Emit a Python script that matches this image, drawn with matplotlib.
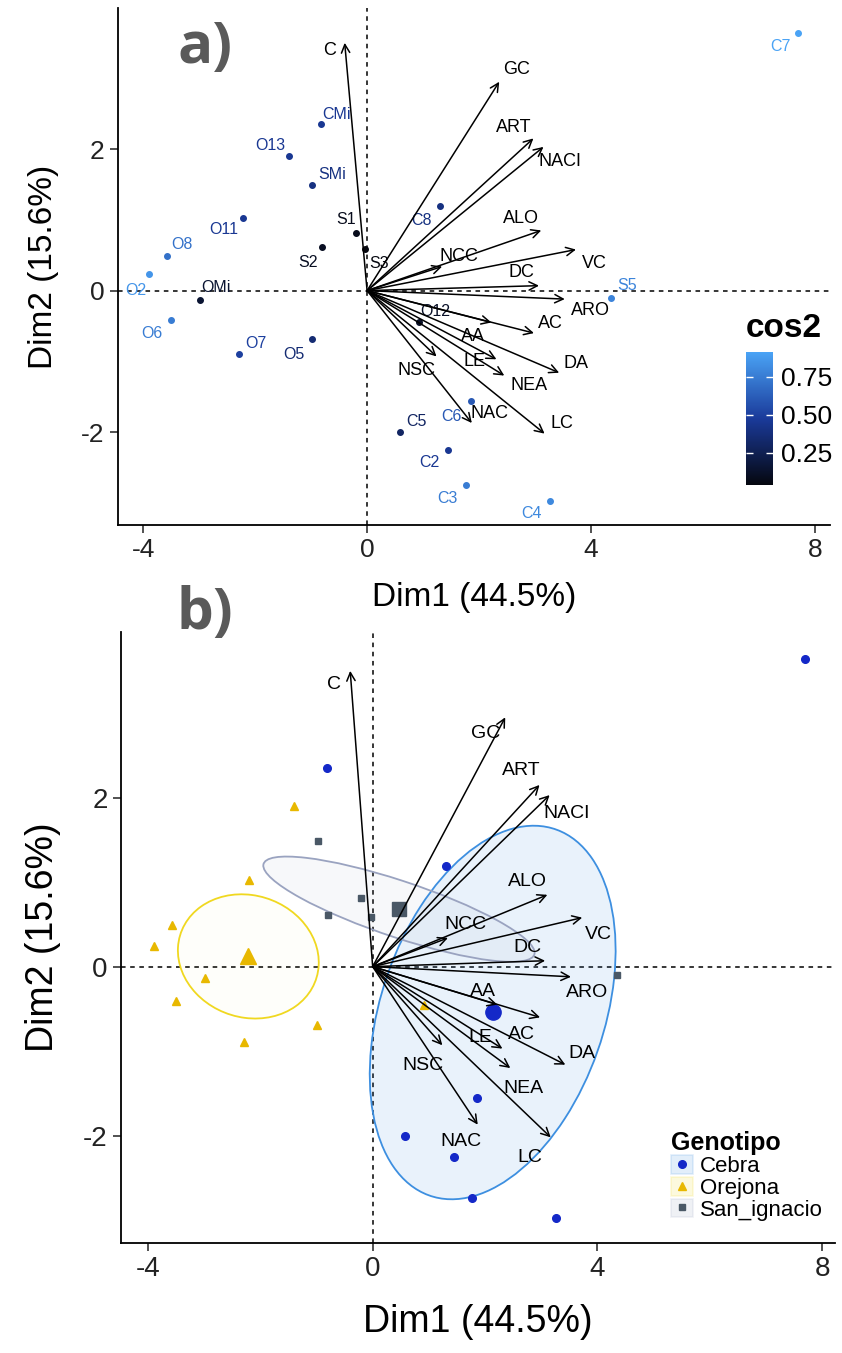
import numpy as np
import matplotlib
matplotlib.use('Agg')
import matplotlib.pyplot as plt
from matplotlib.patches import Ellipse, Patch
from matplotlib.lines import Line2D
from matplotlib.colors import LinearSegmentedColormap, Normalize
from matplotlib.cm import ScalarMappable

plt.rcParams['font.family'] = ['Liberation Sans', 'DejaVu Sans']
plt.rcParams['axes.unicode_minus'] = False

# individuals (coordinates on Dim1 / Dim2, quality cos2, genotype)
ind_names = ['C2', 'C3', 'C4', 'C5', 'C6', 'C7', 'C8', 'CMi',
             'O2', 'O5', 'O6', 'O7', 'O8', 'O11', 'O12', 'O13', 'OMi',
             'S1', 'S2', 'S3', 'S5', 'SMi']
ind_dim1 = [1.45, 1.77, 3.26, 0.58, 1.85, 7.70, 1.30, -0.82,
            -3.89, -0.99, -3.50, -2.29, -3.57, -2.21, 0.92, -1.40, -2.99,
            -0.20, -0.80, -0.03, 4.35, -0.98]
ind_dim2 = [-2.25, -2.74, -2.97, -2.00, -1.56, 3.64, 1.19, 2.35,
            0.24, -0.69, -0.41, -0.89, 0.49, 1.03, -0.45, 1.90, -0.13,
            0.81, 0.61, 0.59, -0.10, 1.49]
ind_cos2 = [0.45, 0.75, 0.80, 0.30, 0.60, 0.91, 0.40, 0.45,
            0.85, 0.35, 0.75, 0.50, 0.70, 0.45, 0.12, 0.45, 0.15,
            0.08, 0.10, 0.04, 0.78, 0.40]
ind_group = ['Cebra'] * 8 + ['Orejona'] * 9 + ['San_ignacio'] * 5

# variables (arrow tips)
var_names = ['C', 'GC', 'ART', 'NACI', 'ALO', 'VC', 'NCC', 'DC', 'ARO',
             'AC', 'AA', 'LE', 'NEA', 'DA', 'NSC', 'NAC', 'LC']
var_dim1 = [-0.40, 2.36, 2.97, 3.15, 3.11, 3.73, 1.34, 3.07, 3.53,
            2.98, 2.22, 2.31, 2.45, 3.43, 1.24, 1.87, 3.17]
var_dim2 = [3.50, 2.95, 2.15, 2.03, 0.85, 0.58, 0.34, 0.07, -0.12,
            -0.60, -0.45, -0.97, -1.20, -1.16, -0.93, -1.87, -2.02]

groups = ['Cebra', 'Orejona', 'San_ignacio']

# label offsets in pixels (dx right, dy down)
var_off_a = {'C': (-15, 8), 'GC': (17, -12), 'ART': (-20, -11), 'NACI': (17, 15),
             'ALO': (-20, -12), 'VC': (18, 14), 'NCC': (17, -10), 'DC': (-18, -13),
             'ARO': (26, 11), 'AC': (16, -10), 'AA': (-18, 14), 'LE': (-22, 2),
             'NEA': (25, 10), 'DA': (17, -9), 'NSC': (-20, 14), 'NAC': (18, -10),
             'LC': (17, -10)}
var_off_b = {'C': (-16, 14), 'GC': (-20, 16), 'ART': (-18, -14), 'NACI': (17, 18),
             'ALO': (-20, -13), 'VC': (16, 17), 'NCC': (17, -13), 'DC': (-18, -13),
             'ARO': (16, 16), 'AA': (-14, -13), 'AC': (-19, 17), 'LE': (-22, -11),
             'NEA': (13, 20), 'DA': (17, -11), 'NSC': (-19, 20), 'NAC': (-17, 17),
             'LC': (-21, 20)}
ind_off_a = {'CMi': (15, -10), 'O13': (-18, -11), 'SMi': (20, -11), 'O11': (-20, 12),
             'S1': (-10, -14), 'S2': (-14, 15), 'S3': (14, 15), 'O8': (15, -11),
             'C8': (-18, 14), 'O2': (-13, 17), 'OMi': (16, -12), 'O6': (-19, 14),
             'O7': (17, -10), 'O5': (-18, 15), 'O12': (17, -11), 'C5': (17, -11),
             'C6': (-19, 15), 'C2': (-19, 13), 'C3': (-19, 14), 'S5': (16, -12),
             'C4': (-18, 13), 'C7': (-18, 14)}

pt_color = {'Cebra': '#1428c8', 'Orejona': '#e8b800', 'San_ignacio': '#4a5866'}
el_color = {'Cebra': '#3d8fe0', 'Orejona': '#f0d820', 'San_ignacio': '#9aa3c0'}
el_alpha = {'Cebra': 0.11, 'Orejona': 0.02, 'San_ignacio': 0.07}
marker = {'Cebra': 'o', 'Orejona': '^', 'San_ignacio': 's'}
msize = {'Cebra': 5.5, 'Orejona': 6, 'San_ignacio': 5}

cmap = LinearSegmentedColormap.from_list('cos2', ['#05070f', '#1a3a9a', '#4aa3f5'])
norm = Normalize(min(ind_cos2), max(ind_cos2))

fig = plt.figure(figsize=(8.42, 13.53), dpi=100)
ax_a = fig.add_axes([0.140, 0.612, 0.846, 0.382])
ax_b = fig.add_axes([0.1437, 0.0813, 0.848, 0.4516])


def style_axes(ax, xlim, ylim, lab_size, tick_size, xpad, ypad):
    ax.set_xlim(*xlim)
    ax.set_ylim(*ylim)
    for s in ['top', 'right']:
        ax.spines[s].set_visible(False)
    for s in ['left', 'bottom']:
        ax.spines[s].set_linewidth(1.3)
    ax.set_xticks([-4, 0, 4, 8])
    ax.set_yticks([-2, 0, 2])
    ax.tick_params(length=6, width=1.1, labelsize=tick_size, colors='#222222')
    ax.set_xlabel('Dim1 (44.5%)', fontsize=lab_size, labelpad=xpad)
    ax.set_ylabel('Dim2 (15.6%)', fontsize=lab_size, labelpad=ypad)
    ax.axhline(0, color='black', lw=1.1, ls=(0, (3, 3)), zorder=1)
    ax.axvline(0, color='black', lw=1.1, ls=(0, (3, 3)), zorder=1)


def draw_arrows(ax, offs, fsize):
    for n, x, y in zip(var_names, var_dim1, var_dim2):
        ax.annotate('', xy=(x, y), xytext=(0, 0),
                    arrowprops=dict(arrowstyle='->', color='black', lw=1.1,
                                    mutation_scale=15, shrinkA=0, shrinkB=0),
                    zorder=4)
        dx, dy = offs[n]
        ax.annotate(n, xy=(x, y), xytext=(dx, -dy), textcoords='offset pixels',
                    ha='center', va='center', fontsize=fsize, color='black', zorder=5)


# ---- panel a
style_axes(ax_a, (-4.45, 8.27), (-3.31, 3.99), 24, 19, 14, 16)
for n, x, y, c in zip(ind_names, ind_dim1, ind_dim2, ind_cos2):
    col = cmap(norm(c))
    ax_a.plot(x, y, 'o', ms=4, color=col, zorder=3)
    dx, dy = ind_off_a[n]
    ax_a.annotate(n, xy=(x, y), xytext=(dx, -dy), textcoords='offset pixels',
                  ha='center', va='center', fontsize=11.5, color=col, zorder=3)
draw_arrows(ax_a, var_off_a, 13)

cax = fig.add_axes([0.886, 0.6415, 0.032, 0.0983])
cb = fig.colorbar(ScalarMappable(norm=norm, cmap=cmap), cax=cax)
cb.outline.set_visible(False)
cb.set_ticks([0.25, 0.50, 0.75])
cb.set_ticklabels(['0.25', '0.50', '0.75'])
cax.tick_params(direction='in', color='white', length=5, width=1,
                left=True, right=True, labelsize=19, pad=6)
cax.text(0, 1.06, 'cos2', transform=cax.transAxes, ha='left', va='bottom',
         fontsize=24, fontweight='bold')

# ---- panel b
style_axes(ax_b, (-4.48, 8.23), (-3.27, 3.96), 27, 20, 16, 16)
handles = []
for g in groups:
    idx = [i for i, gg in enumerate(ind_group) if gg == g]
    pts = np.column_stack([[ind_dim1[i] for i in idx], [ind_dim2[i] for i in idx]])
    m = pts.mean(axis=0)
    cov = np.cov(pts.T) / len(pts)
    vals, vecs = np.linalg.eigh(cov)
    r = np.sqrt(5.991)
    ang = np.degrees(np.arctan2(vecs[1, 1], vecs[0, 1]))
    ax_b.add_patch(Ellipse(m, 2 * r * np.sqrt(vals[1]), 2 * r * np.sqrt(vals[0]), angle=ang,
                           facecolor=el_color[g], alpha=el_alpha[g], edgecolor='none', zorder=1))
    ax_b.add_patch(Ellipse(m, 2 * r * np.sqrt(vals[1]), 2 * r * np.sqrt(vals[0]), angle=ang,
                           facecolor='none', edgecolor=el_color[g], lw=1.3, zorder=2))
    ax_b.plot(pts[:, 0], pts[:, 1], ls='none', marker=marker[g], ms=msize[g],
              color=pt_color[g], zorder=3)
    ax_b.plot(m[0], m[1], marker=marker[g], ms=msize[g] * 2, color=pt_color[g], zorder=3)
    handles.append((Patch(facecolor=el_color[g], alpha=0.15, edgecolor=el_color[g], lw=1.2),
                    Line2D([], [], ls='none', marker=marker[g], ms=msize[g], color=pt_color[g])))
draw_arrows(ax_b, var_off_b, 14)

leg = ax_b.legend(handles, groups, title='Genotipo', loc='upper left',
                  bbox_to_anchor=(0.770, 0.183), frameon=False, fontsize=16,
                  title_fontproperties={'size': 18, 'weight': 'bold'},
                  handlelength=1.0, handleheight=0.9, handletextpad=0.3,
                  labelspacing=0.0, borderpad=0, borderaxespad=0)
leg._legend_box.align = 'left'

fig.text(0.2435, 0.9645, 'a)', fontsize=42, fontweight='bold', color='#5a5a5a',
         family=['Open Sans', 'DejaVu Sans'], ha='center', va='center')
fig.text(0.2435, 0.5462, 'b)', fontsize=42, fontweight='bold', color='#5a5a5a',
         family=['Open Sans', 'DejaVu Sans'], ha='center', va='center')

fig.savefig('out.png', dpi=100)
